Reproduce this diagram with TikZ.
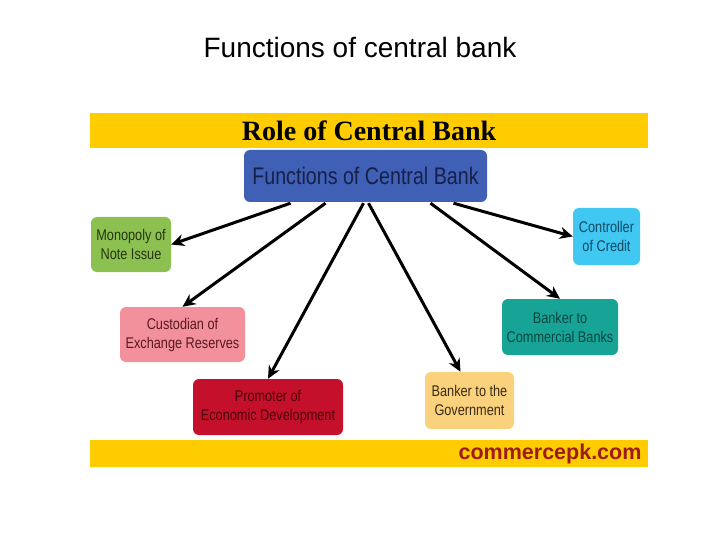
\documentclass[tikz,border=0pt]{standalone}
\usepackage{fontspec}
\setmainfont{Liberation Sans}
\newfontfamily\narrowsans[FakeStretch=0.82]{Liberation Sans}
\newfontfamily\roleserif{Liberation Serif}
\usetikzlibrary{arrows.meta,calc}
\definecolor{bandyellow}{HTML}{FFCC00}
\definecolor{fcbblue}{HTML}{3F60B4}
\definecolor{fcbtext}{HTML}{16204A}
\definecolor{mongreen}{HTML}{8CC152}
\definecolor{montext}{HTML}{26350E}
\definecolor{cuspink}{HTML}{F2909B}
\definecolor{custext}{HTML}{5A1A22}
\definecolor{prored}{HTML}{C5102B}
\definecolor{protext}{HTML}{4A0008}
\definecolor{govorange}{HTML}{FAD27D}
\definecolor{govtext}{HTML}{3A2C12}
\definecolor{comteal}{HTML}{17A497}
\definecolor{comtext}{HTML}{08463F}
\definecolor{crecyan}{HTML}{40C7F2}
\definecolor{cretext}{HTML}{124A66}
\definecolor{sitered}{HTML}{9E1B1B}

\begin{document}
\begin{tikzpicture}[x=1pt,y=-1pt,
    box/.style={rounded corners=6pt,align=center,inner sep=0pt,
      font=\narrowsans\fontsize{15.5}{19}\selectfont},
    band/.style={fill=bandyellow,inner sep=0pt,minimum width=558pt},
    arr/.style={line width=3pt,-{Stealth[length=13pt,width=12pt]}}]
\useasboundingbox (0,0) rectangle (720,540);
\node[font=\fontsize{28}{30}\selectfont] (title) at (360,47) {Functions of central bank};
% yellow bands
\node[band,minimum height=35pt,font=\roleserif\bfseries\fontsize{28}{30}\selectfont]
    (roleband) at (369,130.5) {Role of Central Bank};
\node[band,minimum height=27pt] (siteband) at (369,453.5) {};
\node[anchor=east,text=sitered,font=\bfseries\fontsize{21.5}{24}\selectfont]
    (site) at (645,453.5) {commercepk.com};
% boxes
\node[box,fill=fcbblue,text=fcbtext,minimum width=243pt,minimum height=52pt,
    font=\narrowsans\fontsize{24}{28}\selectfont] (fcb) at (365.5,176) {Functions of Central Bank};
\node[box,fill=mongreen,text=montext,minimum width=80pt,minimum height=55pt]
    (monopoly) at (131,244.5) {Monopoly of\\Note Issue};
\node[box,fill=cuspink,text=custext,minimum width=125pt,minimum height=55pt]
    (custodian) at (182.5,334.5) {Custodian of\\Exchange Reserves};
\node[box,fill=prored,text=protext,minimum width=150pt,minimum height=56pt]
    (promoter) at (268,407) {Promoter of\\Economic Development};
\node[box,fill=govorange,text=govtext,minimum width=89pt,minimum height=57pt]
    (government) at (469.5,400.5) {Banker to the\\Government};
\node[box,fill=comteal,text=comtext,minimum width=116pt,minimum height=56pt]
    (commercial) at (560,327) {Banker to\\Commercial Banks};
\node[box,fill=crecyan,text=cretext,minimum width=67pt,minimum height=57pt]
    (credit) at (606.5,236.5) {Controller\\of Credit};
% arrows
\draw[arr] ($(fcb.south)+(-75,1)$) -- (monopoly.east);
\draw[arr] ($(fcb.south)+(-40,1)$) -- (custodian.north);
\draw[arr] ($(fcb.south)+(-2,1)$) -- (promoter.north);
\draw[arr] ($(fcb.south)+(3,1)$) -- ($(government.north)+(-9,0)$);
\draw[arr] ($(fcb.south)+(65,1)$) -- (commercial.north);
\draw[arr] ($(fcb.south)+(88,1)$) -- (credit.west);
\end{tikzpicture}
\end{document}
